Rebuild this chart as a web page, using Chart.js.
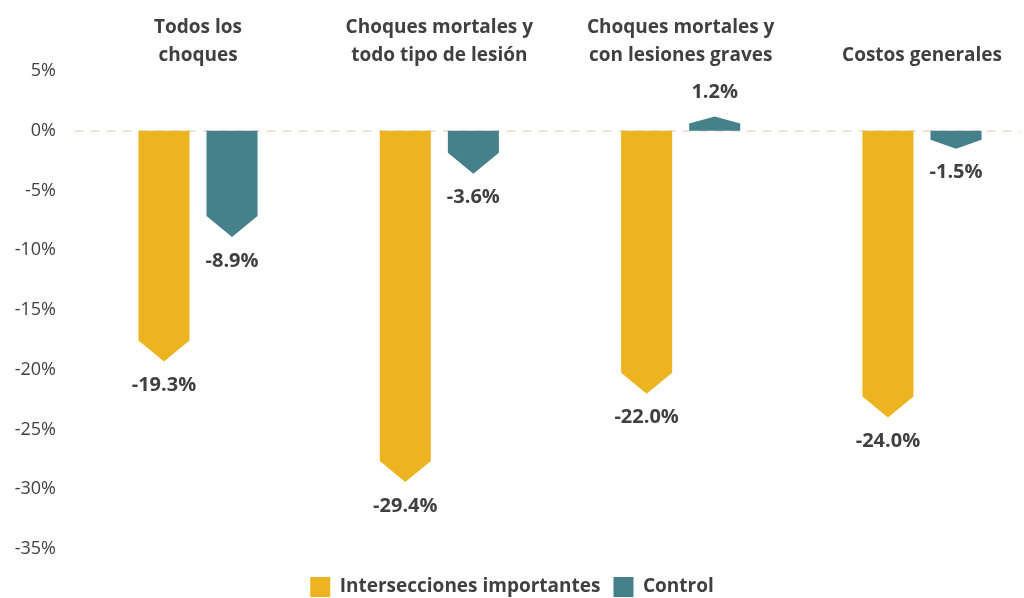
<!DOCTYPE html>
<html>
<head>
<meta charset="utf-8">
<script src="https://cdn.jsdelivr.net/npm/chart.js@4"></script>
<style>
  html, body { margin: 0; padding: 0; background: #fff; }
  #wrap { width: 1024px; height: 598px; position: relative; }
</style>
</head>
<body>
<div id="wrap"><canvas id="chart"></canvas></div>
<script>
(function () {
    "use strict";

    const categories = [
        ["Todos los", "choques"],
        ["Choques mortales y", "todo tipo de lesión"],
        ["Choques mortales y", "con lesiones graves"],
        ["Costos generales"],
    ];
    const seriesNames = ["Intersecciones importantes", "Control"];
    const majorValues = [-19.3, -29.4, -22.0, -24.0];
    const controlValues = [-8.9, -3.6, 1.2, -1.5];
    const yTicks = [5, 0, -5, -10, -15, -20, -25, -30, -35];

    const YELLOW = "#EDB421";
    const TEAL = "#44818A";
    const TEXT = "#404040";
    const FONT = "'Open Sans', Lato, sans-serif";

    // draws the bars as arrows and the value labels
    const arrowBars = {
        id: "arrowBars",
        beforeDatasetDraw() {
            return false;
        },
        afterDatasetsDraw(chart) {
            const ctx = chart.ctx;
            chart.data.datasets.forEach((ds, i) => {
                const meta = chart.getDatasetMeta(i);
                meta.data.forEach((bar, j) => {
                    const p = bar.getProps(["x", "y", "base", "width"], true);
                    const w = p.width / 2;
                    const len = Math.abs(p.base - p.y);
                    const d = p.y > p.base ? 1 : -1;
                    const head = Math.min(21, len * 0.5);
                    const shoulder = p.y - d * head;
                    ctx.save();
                    ctx.fillStyle = ds.backgroundColor;
                    ctx.beginPath();
                    ctx.moveTo(p.x - w, p.base);
                    ctx.lineTo(p.x - w, shoulder);
                    ctx.lineTo(p.x, p.y);
                    ctx.lineTo(p.x + w, shoulder);
                    ctx.lineTo(p.x + w, p.base);
                    ctx.closePath();
                    ctx.fill();

                    const v = ds.data[j];
                    ctx.fillStyle = TEXT;
                    ctx.font = "bold 20px " + FONT;
                    ctx.textAlign = "center";
                    ctx.textBaseline = "middle";
                    ctx.fillText(v.toFixed(1) + "%", p.x, p.y + d * 24);
                    ctx.restore();
                });
            });
        },
    };

    // dashed zero line
    const zeroLine = {
        id: "zeroLine",
        beforeDatasetsDraw(chart) {
            const ctx = chart.ctx;
            const y = Math.round(chart.scales.y.getPixelForValue(0));
            ctx.save();
            ctx.strokeStyle = "#EDE2D8";
            ctx.lineWidth = 2;
            ctx.setLineDash([9, 7]);
            ctx.beginPath();
            ctx.moveTo(75, y);
            ctx.lineTo(1020, y);
            ctx.stroke();
            ctx.restore();
        },
    };

    new Chart(document.getElementById("chart"), {
        type: "bar",
        data: {
            labels: categories,
            datasets: [
                {
                    label: seriesNames[0],
                    data: majorValues,
                    backgroundColor: YELLOW,
                    categoryPercentage: 0.564,
                    barPercentage: 0.75,
                },
                {
                    label: seriesNames[1],
                    data: controlValues,
                    backgroundColor: TEAL,
                    categoryPercentage: 0.564,
                    barPercentage: 0.75,
                },
            ],
        },
        plugins: [zeroLine, arrowBars],
        options: {
            responsive: true,
            maintainAspectRatio: false,
            animation: false,
            layout: {
                padding: 0,
            },
            scales: {
                x: {
                    position: "top",
                    offset: false,
                    grid: { display: false, drawTicks: false },
                    border: { display: false },
                    ticks: {
                        color: TEXT,
                        padding: 1,
                        maxRotation: 0,
                        autoSkip: false,
                        font: { family: FONT, size: 19, weight: "bold", lineHeight: 28 / 19 },
                    },
                    afterFit(scale) {
                        scale.height = 71;
                    },
                },
                y: {
                    min: -35,
                    max: 5,
                    grid: { display: false, drawTicks: false },
                    border: { display: false },
                    afterBuildTicks(scale) {
                        scale.ticks = yTicks.map((v) => ({ value: v }));
                    },
                    ticks: {
                        color: TEXT,
                        padding: 142,
                        font: { family: FONT, size: 18 },
                        callback: (v) => v + "%",
                    },
                    afterFit(scale) {
                        scale.width = 198;
                        scale.paddingTop = 12;
                        scale.paddingBottom = 12;
                    },
                },
                // empty right margin
                yRight: {
                    position: "right",
                    min: -35,
                    max: 5,
                    grid: { display: false, drawTicks: false },
                    border: { display: false },
                    ticks: { display: false },
                    afterFit(scale) {
                        scale.width = 102;
                        scale.paddingTop = 0;
                        scale.paddingBottom = 0;
                    },
                },
            },
            plugins: {
                legend: {
                    position: "bottom",
                    maxHeight: 49,
                    title: {
                        display: true,
                        text: "",
                        padding: 0,
                        font: { size: 1, lineHeight: "15px" },
                    },
                    labels: {
                        color: TEXT,
                        boxWidth: 20,
                        boxHeight: 20,
                        padding: 13,
                        font: { family: FONT, size: 19, weight: "bold" },
                    },
                },
                tooltip: { enabled: false },
            },
        },
    });
})();
</script>
</body>
</html>
